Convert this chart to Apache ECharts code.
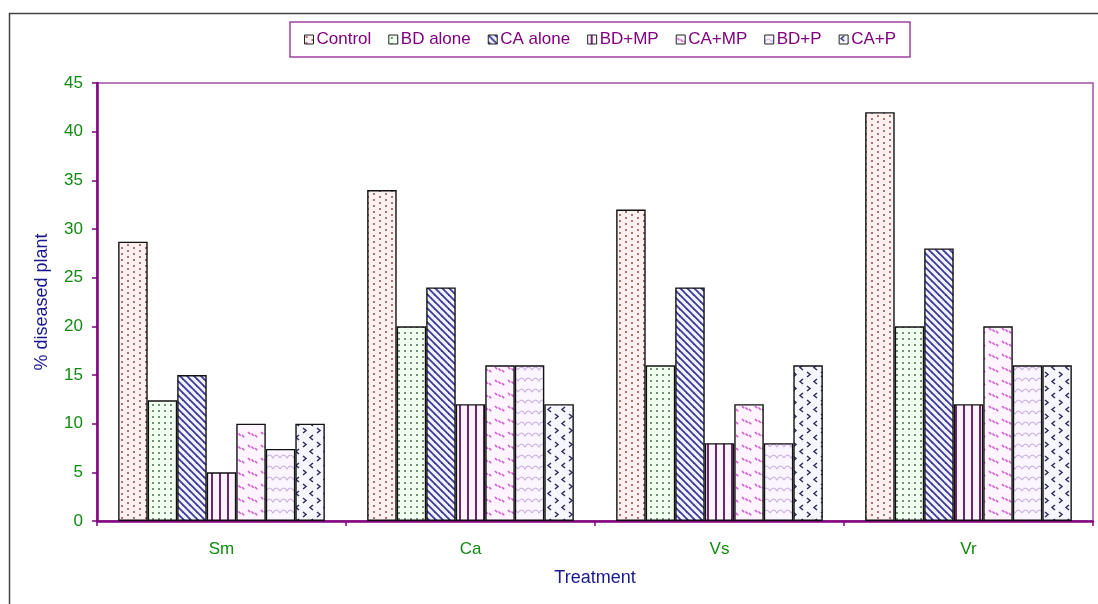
<!DOCTYPE html>
<html>
<head>
<meta charset="utf-8">
<script src="https://cdn.jsdelivr.net/npm/echarts@6/dist/echarts.min.js"></script>
<style>
html,body{margin:0;padding:0;background:#fff;}
#chart{width:1098px;height:604px;}
</style>
</head>
<body>
<div id="chart"></div>
<script>
var categories = ['Sm', 'Ca', 'Vs', 'Vr'];
var seriesNames = ['Control', 'BD alone', 'CA alone', 'BD+MP', 'CA+MP', 'BD+P', 'CA+P'];
var control = [28.7, 34, 32, 42];
var bdAlone = [12.4, 20, 16, 20];
var caAlone = [15, 24, 24, 28];
var bdMp = [5, 12, 8, 12];
var caMp = [10, 16, 12, 20];
var bdP = [7.4, 16, 8, 16];
var caP = [10, 12, 16, 16];
var yTicks = [0, 5, 10, 15, 20, 25, 30, 35, 40, 45];

function tile(w, h, bg, draw) {
  var c = document.createElement('canvas');
  c.width = w; c.height = h;
  var g = c.getContext('2d');
  g.fillStyle = bg; g.fillRect(0, 0, w, h);
  draw(g);
  return c;
}
function dot(g, x, y, r, col) {
  g.fillStyle = col; g.beginPath(); g.arc(x, y, r, 0, Math.PI * 2); g.fill();
}
var patterns = [
  tile(12, 12, '#fff0f0', function (g) {
    dot(g, 2, 2, 1, '#8a4a4a'); dot(g, 8, 5, 1, '#8a4a4a');
    dot(g, 2, 8, 1, '#8a4a4a'); dot(g, 8, 11, 1, '#8a4a4a');
  }),
  tile(6, 6, '#f0fff0', function (g) {
    dot(g, 3, 3, 1, '#4f6a4f');
  }),
  tile(7, 7, '#f2f2ff', function (g) {
    g.strokeStyle = '#3a3a98'; g.lineWidth = 1.8;
    for (var k = -1; k <= 1; k++) {
      g.beginPath(); g.moveTo(k * 7 - 1, -1); g.lineTo(k * 7 + 8, 8); g.stroke();
    }
  }),
  tile(8, 8, '#fff2ff', function (g) {
    g.fillStyle = '#6a2a6a'; g.fillRect(3, 0, 2, 8);
  }),
  tile(13, 13, '#fff4ff', function (g) {
    g.strokeStyle = '#d25ad2'; g.lineWidth = 1.6;
    for (var i = 0; i < 3; i++) {
      var x = 1 + i * 3.5, y = 3 + i * 1.5;
      g.beginPath(); g.moveTo(x, y); g.lineTo(x + 2.2, y + 2.2); g.stroke();
    }
  }),
  tile(14, 11, '#faf5ff', function (g) {
    g.strokeStyle = '#c8aee0'; g.lineWidth = 1.1;
    g.beginPath(); g.moveTo(0, 7); g.quadraticCurveTo(3.5, 1, 7, 7); g.quadraticCurveTo(10.5, 1, 14, 7); g.stroke();
  }),
  tile(14, 14, '#f6f6ff', function (g) {
    g.strokeStyle = '#2e2e5e'; g.lineWidth = 1.5;
    g.beginPath(); g.moveTo(5, 1); g.lineTo(2, 3.5); g.lineTo(5, 6); g.stroke();
    g.beginPath(); g.moveTo(9, 8); g.lineTo(12, 10.5); g.lineTo(9, 13); g.stroke();
  })
];
var dataSets = [control, bdAlone, caAlone, bdMp, caMp, bdP, caP];

var chart = echarts.init(document.getElementById('chart'), null, { renderer: 'canvas' });
var series = seriesNames.map(function (n, i) {
  return {
    name: n,
    type: 'bar',
    data: dataSets[i],
    barGap: '0%',
    barCategoryGap: '17%',
    itemStyle: { color: { image: patterns[i], repeat: 'repeat' }, borderColor: '#111', borderWidth: 1.4 },
    emphasis: { disabled: true }
  };
});
chart.setOption({
  animation: false,
  textStyle: { fontFamily: 'Liberation Sans, Arial, sans-serif' },
  graphic: [{
    type: 'rect', left: 7, top: 11, z: -1,
    shape: { x: 0, y: 0, width: 1200, height: 700 },
    style: { fill: 'none', stroke: '#444', lineWidth: 1.5 }
  }],
  legend: {
    left: 290, top: 22,
    padding: [9, 14, 9, 14],
    borderColor: '#a040a0', borderWidth: 1.5,
    icon: 'rect',
    itemWidth: 9, itemHeight: 9, itemGap: 17,
    textStyle: { color: '#800080', fontSize: 17, padding: [0, 0, 0, -2] },
    itemStyle: { borderColor: '#222', borderWidth: 1 },
    data: seriesNames
  },
  grid: {
    left: 97, top: 83, right: 5, bottom: 83,
    show: true, borderColor: '#a050a0', borderWidth: 1.5, backgroundColor: 'transparent'
  },
  xAxis: {
    type: 'category',
    data: categories,
    name: 'Treatment', nameLocation: 'middle', nameGap: 48,
    nameTextStyle: { color: '#1a1a90', fontSize: 18 },
    axisLine: { lineStyle: { color: '#800080', width: 2.5 } },
    axisTick: { show: true, alignWithLabel: false, length: 5, lineStyle: { color: '#800080', width: 1.5 } },
    axisLabel: { color: '#108a10', fontSize: 17, margin: 20 },
    splitLine: { show: false }
  },
  yAxis: {
    type: 'value',
    min: yTicks[0], max: yTicks[yTicks.length - 1], interval: 5,
    name: '% diseased plant', nameLocation: 'middle', nameGap: 46, nameRotate: 90,
    nameTextStyle: { color: '#1a1a90', fontSize: 18 },
    axisLine: { show: true, lineStyle: { color: '#800080', width: 2.5 } },
    axisTick: { show: true, inside: false, length: 5, lineStyle: { color: '#800080', width: 1.5 } },
    axisLabel: { color: '#108a10', fontSize: 17, margin: 14 },
    splitLine: { show: false }
  },
  series: series
});
</script>
</body>
</html>
